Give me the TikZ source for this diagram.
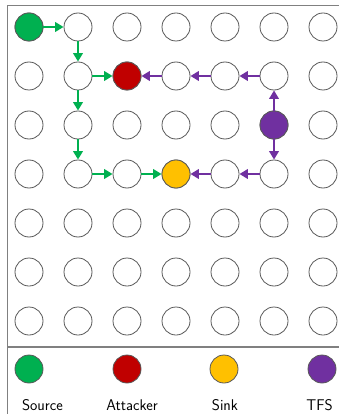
\documentclass[tikz,border=0pt]{standalone}
\usetikzlibrary{arrows.meta}

\begin{document}
\begin{tikzpicture}[x=1pt, y=-1pt]
    % Define colours
    \definecolor{borderColour}{HTML}{595959}
    \definecolor{frameColour}{HTML}{808080}
    \definecolor{sourceColour}{HTML}{00B050}
    \definecolor{attackerColour}{HTML}{C00000}
    \definecolor{sinkColour}{HTML}{FFC000}
    \definecolor{tfsColour}{HTML}{7030A0}

    % Define grid spacing
    \def\gridStep{49}

    \tikzset{
        cell/.style={circle, draw=borderColour, line width=0.8pt, fill=white,
            minimum size=28pt, inner sep=0pt},
        flow/.style={line width=2pt, -{Triangle[length=8.5pt, width=9.5pt]}},
        label/.style={font=\sffamily\fontsize{15.5}{18}\selectfont, anchor=base, inner sep=0pt}
    }

    \useasboundingbox (0,0) rectangle (339,414);

    % Draw frame
    \draw[frameColour, line width=1.4pt] (7.5,414) -- (7.5,5.5) -- (339,5.5);
    \draw[frameColour, line width=1.4pt] (7.5,347) -- (339,347);

    % Draw grid of cells
    \foreach \x in {1,...,7}
        \foreach \y in {1,...,7}
            \node[cell] (c-\x-\y) at ({29+\gridStep*(\x-1)},{27+\gridStep*(\y-1)}) {};

    % Mark the special cells
    \node[cell, fill=sourceColour] (source) at (c-1-1) {};
    \node[cell, fill=attackerColour] (attacker) at (c-3-2) {};
    \node[cell, fill=sinkColour] (sink) at (c-4-4) {};
    \node[cell, fill=tfsColour] (tfs) at (c-6-3) {};

    % Draw the source paths
    \draw[flow, sourceColour] (source) -- (c-2-1);
    \draw[flow, sourceColour] (c-2-1) -- (c-2-2);
    \draw[flow, sourceColour] (c-2-2) -- (attacker);
    \draw[flow, sourceColour] (c-2-2) -- (c-2-3);
    \draw[flow, sourceColour] (c-2-3) -- (c-2-4);
    \draw[flow, sourceColour] (c-2-4) -- (c-3-4);
    \draw[flow, sourceColour] (c-3-4) -- (sink);

    % Draw the TFS paths
    \draw[flow, tfsColour] (tfs) -- (c-6-2);
    \draw[flow, tfsColour] (c-6-2) -- (c-5-2);
    \draw[flow, tfsColour] (c-5-2) -- (c-4-2);
    \draw[flow, tfsColour] (c-4-2) -- (attacker);
    \draw[flow, tfsColour] (tfs) -- (c-6-4);
    \draw[flow, tfsColour] (c-6-4) -- (c-5-4);
    \draw[flow, tfsColour] (c-5-4) -- (sink);

    % Draw the legend
    \node[cell, fill=sourceColour] (legSource) at (29,369) {};
    \node[cell, fill=attackerColour] (legAttacker) at (127,369) {};
    \node[cell, fill=sinkColour] (legSink) at (224,369) {};
    \node[cell, fill=tfsColour] (legTfs) at (322,369) {};

    \node[label] (txtSource) at (42.5,410) {Source};
    \node[label] (txtAttacker) at (132,410) {Attacker};
    \node[label] (txtSink) at (225,410) {Sink};
    \node[label] (txtTfs) at (319.5,410) {TFS};

\end{tikzpicture}
\end{document}
